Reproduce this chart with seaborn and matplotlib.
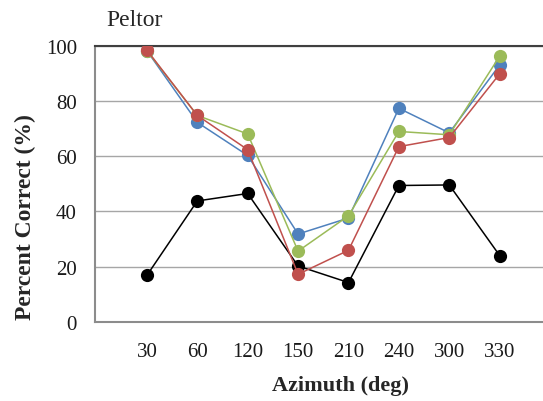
import numpy as np
import pandas as pd
import matplotlib
matplotlib.use("Agg")
import matplotlib.pyplot as plt
import seaborn as sns

azimuth = ["30", "60", "120", "150", "210", "240", "300", "330"]
blue = [98.3, 72.3, 60.3, 31.8, 37.6, 77.4, 68.5, 93.1]
green = [98.3, 74.8, 68.1, 25.6, 38.4, 69.0, 67.8, 96.3]
red = [98.5, 74.8, 62.4, 17.2, 25.9, 63.5, 66.8, 89.9]
black = [16.8, 43.8, 46.5, 20.2, 14.2, 49.4, 49.6, 24.0]

series = {"black": black, "blue": blue, "green": green, "red": red}
colors = {"black": "#000000", "blue": "#4F81BD", "green": "#9BBB59", "red": "#C0504D"}

rows = []
for name, vals in series.items():
    for i, v in enumerate(vals):
        rows.append({"pos": i, "value": v, "series": name})
df = pd.DataFrame(rows)

sns.set_theme(style="white")
plt.rcParams["font.family"] = ["Liberation Serif", "DejaVu Serif"]

fig = plt.figure(figsize=(5.43, 4.02), dpi=100)
ax = fig.add_axes([95/543, 1-322.7/402, 1-95/543, (322.7-47)/402])

for name in ["black", "blue", "green", "red"]:
    sub = df[df["series"] == name]
    sns.lineplot(data=sub, x="pos", y="value", ax=ax, color=colors[name],
                 marker="o", markersize=9.5, markeredgewidth=0, linewidth=1.1,
                 legend=False, zorder=3)

ax.set_xlim(-1.03, 7.86)
ax.set_ylim(0, 100)
ax.set_yticks([0, 20, 40, 60, 80, 100])
ax.set_xticks(list(range(-1, 8)))
ax.set_xticklabels([""] + azimuth)
ax.yaxis.grid(True, color="#a6a6a6", linewidth=1.0)
ax.set_axisbelow(True)
for s in ["left", "bottom"]:
    ax.spines[s].set_color("#8c8c8c")
    ax.spines[s].set_linewidth(1.5)
ax.spines["right"].set_visible(False)
ax.spines["top"].set_color("#404040")
ax.spines["top"].set_linewidth(1.5)
ax.tick_params(axis="both", which="both", direction="out", width=1,
               color="#8c8c8c", labelsize=15, labelcolor="#1a1a1a")
ax.tick_params(axis="x", length=4.5, pad=10)
ax.tick_params(axis="y", length=5, pad=8)
ax.set_xlabel("Azimuth (deg)", fontsize=16, fontweight="bold")
ax.xaxis.set_label_coords((340-95)/(543-95), -(386-322.7)/(322.7-47), transform=ax.transAxes)
ax.xaxis.label.set_va("center")
ax.set_ylabel("Percent Correct (%)", fontsize=17, fontweight="bold")
ax.yaxis.set_label_coords(-(95-25)/(543-95), (322.7-217)/(322.7-47), transform=ax.transAxes)
ax.yaxis.label.set_va("center")
fig.text(135/543, 1-20/402, "Peltor", fontsize=17, va="center", ha="center")

fig.savefig("out.png", dpi=100)
